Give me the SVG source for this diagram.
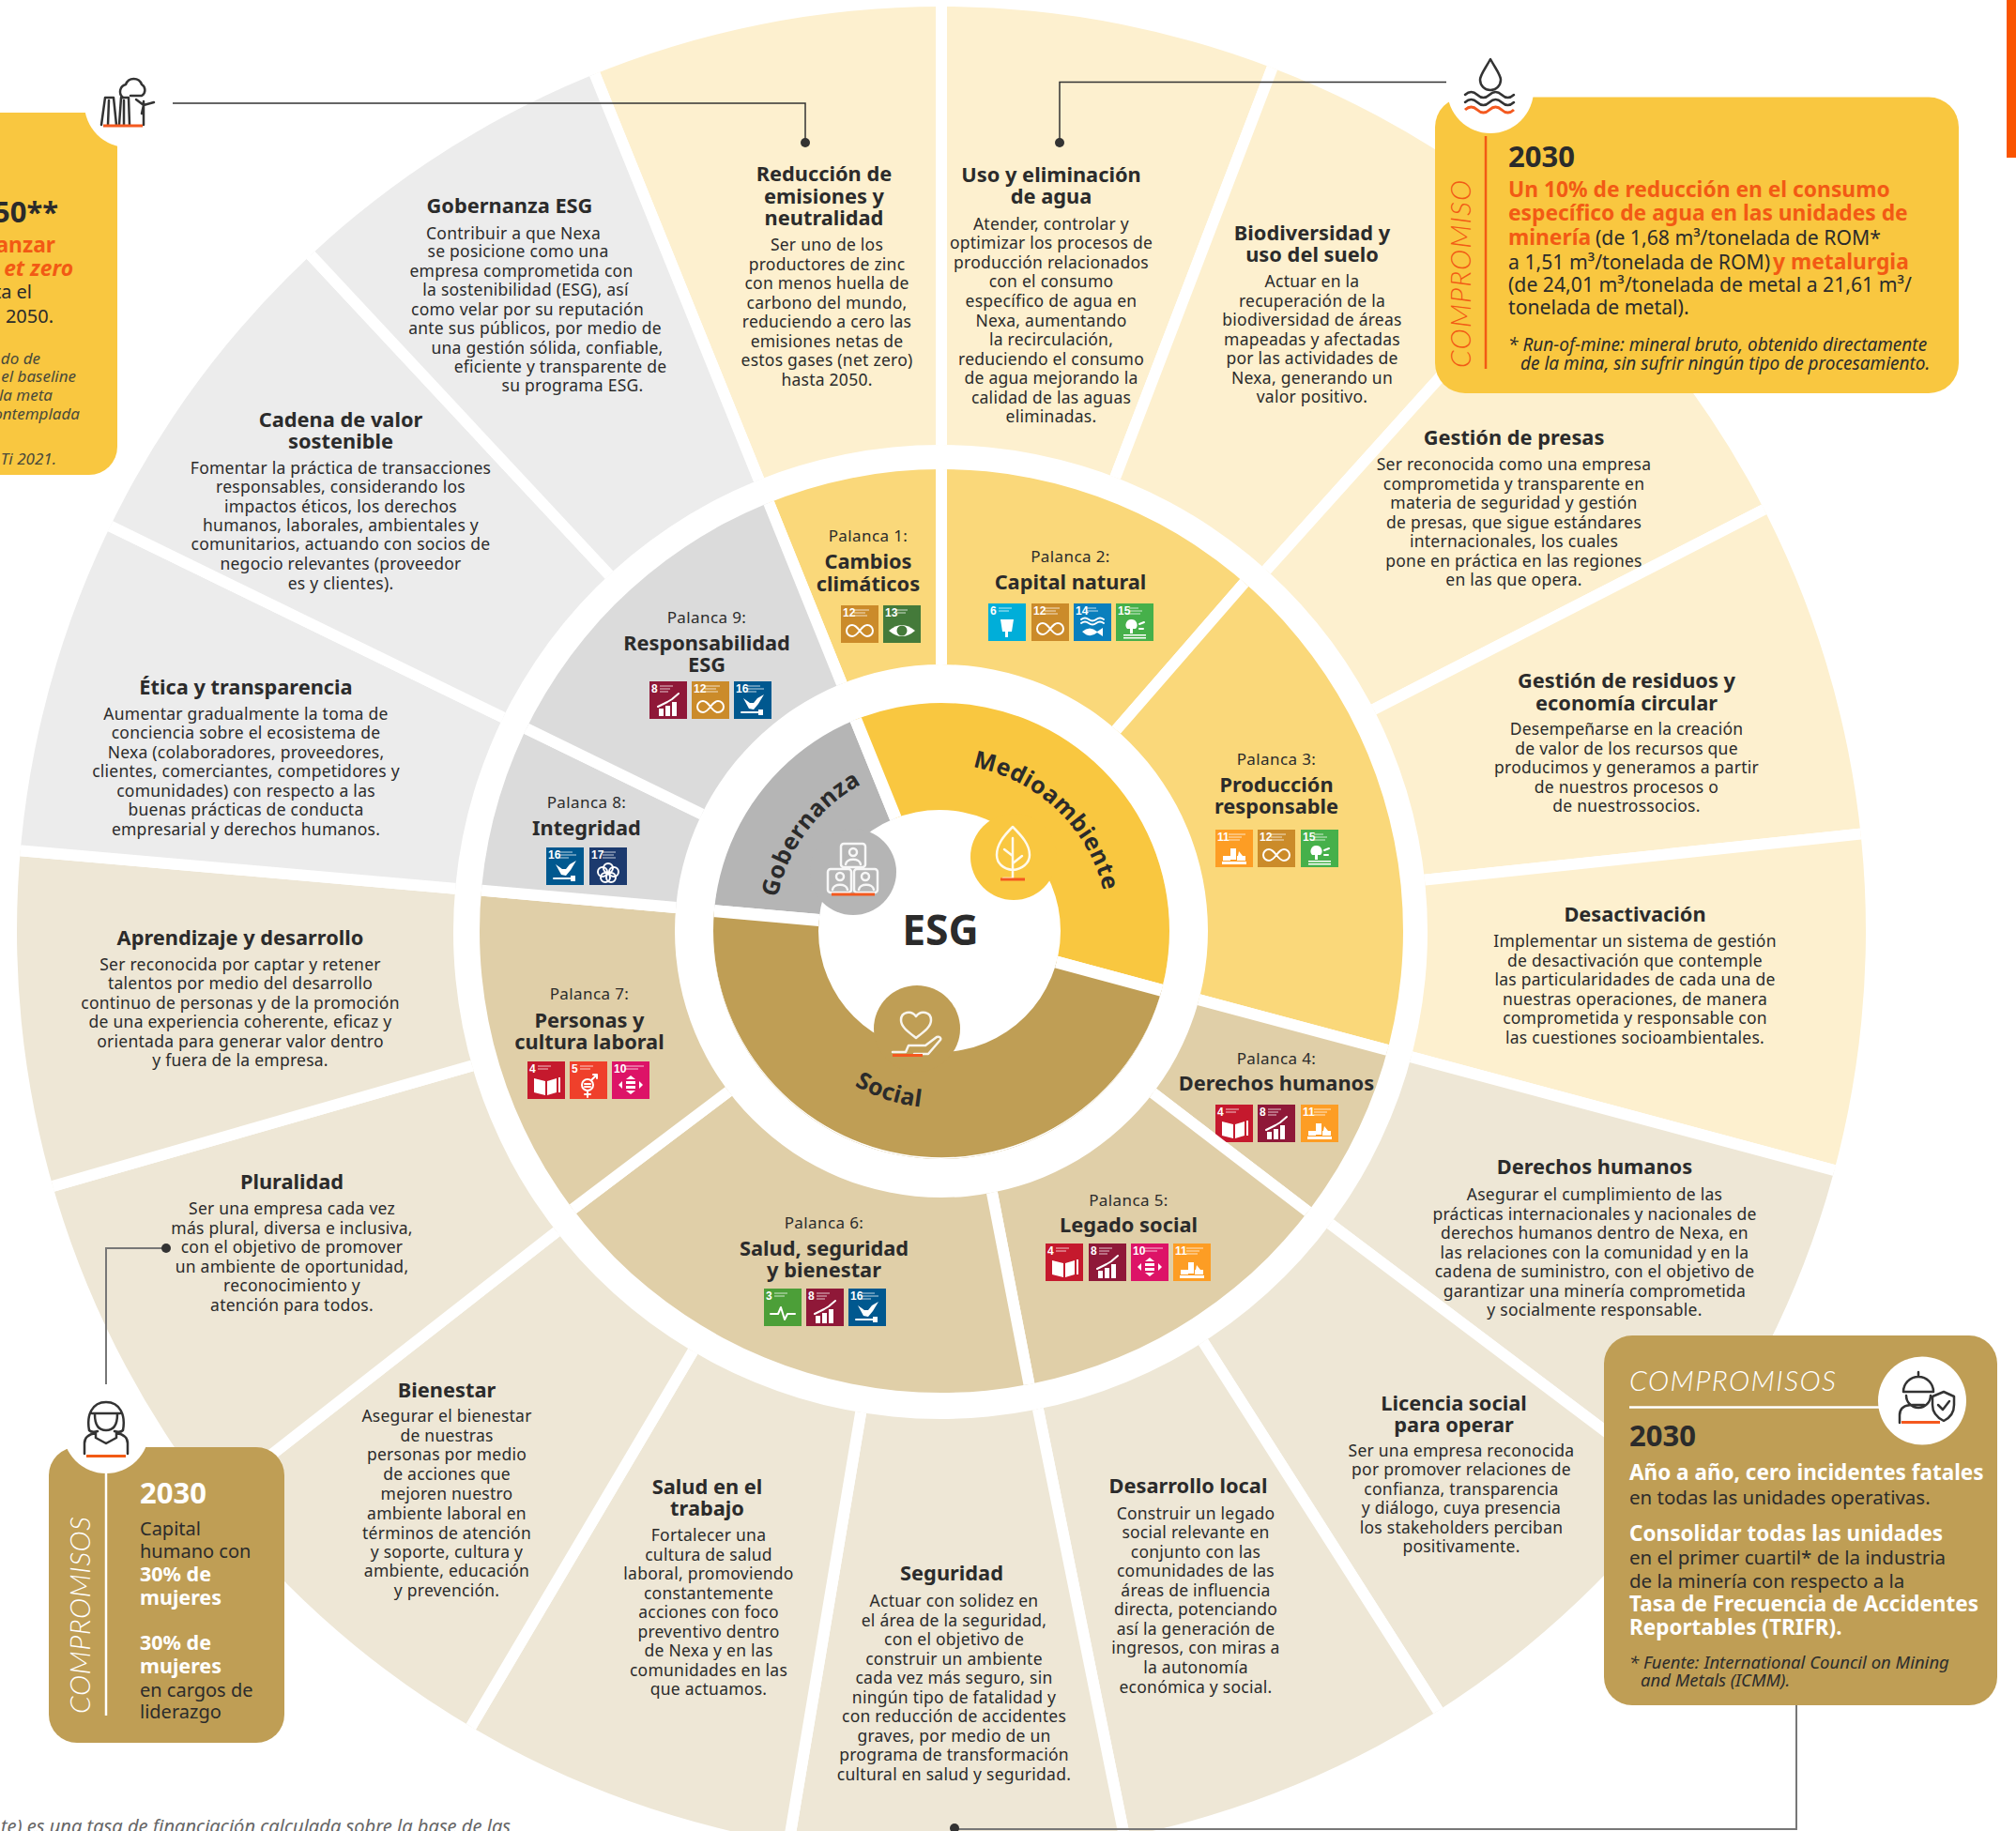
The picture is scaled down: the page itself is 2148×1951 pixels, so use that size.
<svg xmlns="http://www.w3.org/2000/svg" width="2148" height="1951" viewBox="0 0 2148 1951">
<style>
text{font-family:"Noto Sans","Open Sans",sans-serif;fill:#2b2b2b}
.t{font-size:21.8px;font-weight:700;text-anchor:middle}
.b{font-size:17.5px;text-anchor:middle;letter-spacing:.25px}
.p{font-size:17px;text-anchor:middle;letter-spacing:.4px}
.c{font-size:25px;font-weight:700;letter-spacing:.5px}
.oe{fill:#FDF0CF}.os{fill:#EEE7D6}.og{fill:#ECECEC}
.me{fill:#FAD87A}.ms{fill:#E0CFA8}.mg{fill:#DBDBDB}
.ce{fill:#F9C740}.cs{fill:#BF9E55}.cg{fill:#B5B5B5}
.w{stroke:#fff;stroke-width:12}
.cw{stroke:#fff;stroke-width:13}
.ol{clip-path:url(#outerClip)}.ml{clip-path:url(#midClip)}.cl{clip-path:url(#coreClip)}
.k{fill:none;stroke:#333;stroke-width:2.5;stroke-linecap:round;stroke-linejoin:round}
.wi{fill:none;stroke:#fff;stroke-width:2.5;stroke-linecap:round;stroke-linejoin:round;opacity:.9}
.u{stroke:#F4591F;stroke-width:3;fill:none}
.cn{font:700 12px "Liberation Sans Narrow","Liberation Sans",sans-serif;fill:#fff}
.sg{fill:none;stroke:#fff;stroke-width:2;stroke-linecap:round;stroke-linejoin:round}
.sf{fill:#fff}
.tl{stroke:#fff;stroke-width:1;opacity:.75}
.y{font-size:22.8px;font-weight:700;fill:#F25A14}
.r{font-size:20.5px}
.rb{font-size:22.5px;font-weight:700;fill:#fff}
.lr{font-size:20px}
.lb{font-size:21.5px;font-weight:700;fill:#fff}
.yr{font-size:21.2px}
.yl{font-size:20px}
.bigy{font-size:31px;font-weight:700}
.i{font-style:italic;font-size:18.5px}
.il{font-style:italic;font-size:17px;fill:#4a4a3a}
.lc{font-family:Lato,"Noto Sans",sans-serif;font-style:italic;font-weight:300;font-size:30px}
.cnl{fill:none;stroke:#333;stroke-width:1.5}
.cnl2{fill:none;stroke:#777;stroke-width:2}
</style>
<defs>
<clipPath id="outerClip"><path clip-rule="evenodd" d="M18 992a985 985 0 1 0 1970 0a985 985 0 1 0-1970 0zM483 993a519 519 0 1 0 1038 0a519 519 0 1 0-1038 0z"/></clipPath>
<clipPath id="midClip"><path clip-rule="evenodd" d="M511 992a492 492 0 1 0 984 0a492 492 0 1 0-984 0zM719 992a284 284 0 1 0 568 0a284 284 0 1 0-568 0z"/></clipPath>
<clipPath id="coreClip"><path clip-rule="evenodd" d="M760 992a243 243 0 1 0 486 0a243 243 0 1 0-486 0zM872 992a129 129 0 1 0 258 0a129 129 0 1 0-258 0z"/></clipPath>
<path id="arcM" d="M1013.900 814.300A178 178 0 0 1 1179.900 971.900"/>
<path id="arcG" d="M825 1003A178 178 0 0 1 961.500 819"/>
<path id="arcS" d="M842.700 1092A189 189 0 0 0 1074 1167"/>
<g id="s3"><rect width="40" height="40" fill="#4C9F38"/><text class="cn" x="2" y="12">3</text><path class="tl" d="M11 5h14M11 8h11"/><path class="sg" d="M7 27h8l3-7 4 13 3-6h8"/></g>
<g id="s4"><rect width="40" height="40" fill="#C5192D"/><text class="cn" x="2" y="12">4</text><path class="tl" d="M11 5h14M11 8h11"/><path class="sf" d="M7 18l12 3v15L7 33zM21 21l10-3v15l-10 3zM33 17h2v16h-2z"/></g>
<g id="s5"><rect width="40" height="40" fill="#EF402B"/><text class="cn" x="2" y="12">5</text><path class="tl" d="M11 5h14M11 8h11"/><circle class="sg" cx="19" cy="25" r="6"/><path class="sg" d="M19 31v7M16 35h6M23 20l6-6M25 14h4v4M16 24h6M16 27h6"/></g>
<g id="s6"><rect width="40" height="40" fill="#00AED9"/><text class="cn" x="2" y="12">6</text><path class="tl" d="M11 5h14M11 8h11"/><path class="sf" d="M13 17h14l-2 13h-4v6h-3v-6h-3z"/></g>
<g id="s8"><rect width="40" height="40" fill="#8F1838"/><text class="cn" x="2" y="12">8</text><path class="tl" d="M11 5h14M11 8h11M11 11h9"/><path class="sf" d="M10 29h5v8h-5zM17 26h5v11h-5zM24 22h5v15h-5z"/><path class="sg" d="M9 27l10-5 5-3 7-6"/></g>
<g id="s10"><rect width="40" height="40" fill="#DD1367"/><text class="cn" x="2" y="12">10</text><path class="tl" d="M14 5h20M14 8h14"/><path class="sf" d="M15 21h10v3H15zM15 26h10v3H15zM20 15l5 4H15zM20 35l-5-4h10zM7 25l4-4v8zM33 25l-4-4v8z"/></g>
<g id="s11"><rect width="40" height="40" fill="#FD9D24"/><text class="cn" x="2" y="12">11</text><path class="tl" d="M14 5h18M14 8h14M14 11h12"/><path class="sf" d="M16 20h6v12h-6zM8 28h8v5H8zM23 28h9v5h-9zM7 34h26v3H7zM25 23l4 5h-5z"/></g>
<g id="s12"><rect width="40" height="40" fill="#CB8B2A"/><text class="cn" x="2" y="12">12</text><path class="tl" d="M14 5h16M14 8h12M14 11h14"/><path class="sg" d="M20 27c-3-4-5-6-8-6a6 6 0 0 0 0 12c3 0 5-2 8-6s5-6 8-6a6 6 0 0 1 0 12c-3 0-5-2-8-6z"/></g>
<g id="s13"><rect width="40" height="40" fill="#447A3A"/><text class="cn" x="2" y="12">13</text><path class="tl" d="M14 5h12M14 8h10"/><path class="sf" d="M6 27Q20 15 34 27Q20 39 6 27z"/><circle cx="20" cy="27" r="5.500" fill="#447A3A"/></g>
<g id="s14"><rect width="40" height="40" fill="#0A7FBD"/><text class="cn" x="2" y="12">14</text><path class="tl" d="M14 5h10M14 8h12"/><path class="sg" d="M8 17q4-3 8 0t8 0 8 0M8 21q4-3 8 0t8 0 8 0"/><path class="sf" d="M9 30q8-7 16 0l6-4v9l-6-4q-8 7-16-1z"/></g>
<g id="s15"><rect width="40" height="40" fill="#46B04A"/><text class="cn" x="2" y="12">15</text><path class="tl" d="M14 5h10M14 8h14M14 11h12"/><path class="sf" d="M16 17a6 6 0 0 1 5 10h-3v5h-3v-5h-3a6 6 0 0 1 4-10zM8 33h24v1.500H8zM8 36h24v1.500H8z"/><path class="sg" d="M25 22l5-2M25 27h4"/></g>
<g id="s16"><rect width="40" height="40" fill="#00588F"/><text class="cn" x="2" y="12">16</text><path class="tl" d="M14 5h14M14 8h18M14 11h10"/><path class="sf" d="M10 18l7 5 4 0 4-5 7-4-6 10-5 6-5-1z"/><path class="sg" d="M8 33h22"/><rect class="sf" x="26" y="30" width="5" height="6"/></g>
<g id="s17"><rect width="40" height="40" fill="#1C3A6E"/><text class="cn" x="2" y="12">17</text><path class="tl" d="M14 5h14M14 8h12M14 11h14"/><g class="sg" stroke-width="1.500"><circle cx="20" cy="22" r="5"/><circle cx="14" cy="26" r="5"/><circle cx="26" cy="26" r="5"/><circle cx="17" cy="32" r="5"/><circle cx="23" cy="32" r="5"/></g></g>
</defs>
<rect width="2148" height="1951" fill="#fff"/>

<g id="w-emisiones"><path class="oe w ol" d="M1003 992L628 65A1000 1000 0 0 1 1003 -8Z"/><text class="t"><tspan x="878" y="193">Reducción de</tspan><tspan x="878" y="216.500">emisiones y</tspan><tspan x="878" y="240">neutralidad</tspan></text><text class="b"><tspan x="881" y="267">Ser uno de los</tspan><tspan x="881" y="288">productores de zinc</tspan><tspan x="881" y="308">con menos huella de</tspan><tspan x="881" y="329">carbono del mundo,</tspan><tspan x="881" y="349">reduciendo a cero las</tspan><tspan x="881" y="370">emisiones netas de</tspan><tspan x="881" y="390">estos gases (net zero)</tspan><tspan x="881" y="411">hasta 2050.</tspan></text></g>
<g id="w-agua"><path class="oe w ol" d="M1003 992L1003 -8A1000 1000 0 0 1 1361 58Z"/><text class="t"><tspan x="1120" y="194">Uso y eliminación</tspan><tspan x="1120" y="217">de agua</tspan></text><text class="b"><tspan x="1120" y="245">Atender, controlar y</tspan><tspan x="1120" y="265">optimizar los procesos de</tspan><tspan x="1120" y="286">producción relacionados</tspan><tspan x="1120" y="306">con el consumo</tspan><tspan x="1120" y="327">específico de agua en</tspan><tspan x="1120" y="348">Nexa, aumentando</tspan><tspan x="1120" y="368">la recirculación,</tspan><tspan x="1120" y="389">reduciendo el consumo</tspan><tspan x="1120" y="409">de agua mejorando la</tspan><tspan x="1120" y="430">calidad de las aguas</tspan><tspan x="1120" y="450">eliminadas.</tspan></text></g>
<g id="w-biodiversidad"><path class="oe w ol" d="M1003 992L1361 58A1000 1000 0 0 1 1672 249Z"/><text class="t"><tspan x="1398" y="256">Biodiversidad y</tspan><tspan x="1398" y="279">uso del suelo</tspan></text><text class="b"><tspan x="1398" y="306">Actuar en la</tspan><tspan x="1398" y="327">recuperación de la</tspan><tspan x="1398" y="347">biodiversidad de áreas</tspan><tspan x="1398" y="368">mapeadas y afectadas</tspan><tspan x="1398" y="388">por las actividades de</tspan><tspan x="1398" y="409">Nexa, generando un</tspan><tspan x="1398" y="429">valor positivo.</tspan></text></g>
<g id="w-presas"><path class="oe w ol" d="M1003 992L1672 249A1000 1000 0 0 1 1893 536Z"/><text class="t"><tspan x="1613" y="474">Gestión de presas</tspan></text><text class="b"><tspan x="1613" y="501">Ser reconocida como una empresa</tspan><tspan x="1613" y="522">comprometida y transparente en</tspan><tspan x="1613" y="542">materia de seguridad y gestión</tspan><tspan x="1613" y="563">de presas, que sigue estándares</tspan><tspan x="1613" y="583">internacionales, los cuales</tspan><tspan x="1613" y="604">pone en práctica en las regiones</tspan><tspan x="1613" y="624">en las que opera.</tspan></text></g>
<g id="w-residuos"><path class="oe w ol" d="M1003 992L1893 536A1000 1000 0 0 1 1997 887Z"/><text class="t"><tspan x="1733" y="733">Gestión de residuos y</tspan><tspan x="1733" y="756.500">economía circular</tspan></text><text class="b"><tspan x="1733" y="783">Desempeñarse en la creación</tspan><tspan x="1733" y="803.500">de valor de los recursos que</tspan><tspan x="1733" y="824">producimos y generamos a partir</tspan><tspan x="1733" y="844.700">de nuestros procesos o</tspan><tspan x="1733" y="865">de nuestrossocios.</tspan></text></g>
<g id="w-desactivacion"><path class="oe w ol" d="M1003 992L1997 887A1000 1000 0 0 1 1969 1251Z"/><text class="t"><tspan x="1742" y="982">Desactivación</tspan></text><text class="b"><tspan x="1742" y="1009">Implementar un sistema de gestión</tspan><tspan x="1742" y="1029.500">de desactivación que contemple</tspan><tspan x="1742" y="1050">las particularidades de cada una de</tspan><tspan x="1742" y="1070.600">nuestras operaciones, de manera</tspan><tspan x="1742" y="1091">comprometida y responsable con</tspan><tspan x="1742" y="1112">las cuestiones socioambientales.</tspan></text></g>
<g id="w-derechos"><path class="os w ol" d="M1003 992L1969 1251A1000 1000 0 0 1 1802 1594Z"/><text class="t"><tspan x="1699" y="1251">Derechos humanos</tspan></text><text class="b"><tspan x="1699" y="1279">Asegurar el cumplimiento de las</tspan><tspan x="1699" y="1299.500">prácticas internacionales y nacionales de</tspan><tspan x="1699" y="1320">derechos humanos dentro de Nexa, en</tspan><tspan x="1699" y="1340.600">las relaciones con la comunidad y en la</tspan><tspan x="1699" y="1361">cadena de suministro, con el objetivo de</tspan><tspan x="1699" y="1381.800">garantizar una minería comprometida</tspan><tspan x="1699" y="1402">y socialmente responsable.</tspan></text></g>
<g id="w-licencia"><path class="os w ol" d="M1003 992L1802 1594A1000 1000 0 0 1 1540 1835Z"/><text class="t"><tspan x="1549" y="1503">Licencia social</tspan><tspan x="1549" y="1526">para operar</tspan></text><text class="b"><tspan x="1557" y="1551.500">Ser una empresa reconocida</tspan><tspan x="1557" y="1572">por promover relaciones de</tspan><tspan x="1557" y="1592.600">confianza, transparencia</tspan><tspan x="1557" y="1613">y diálogo, cuya presencia</tspan><tspan x="1557" y="1633.700">los stakeholders perciban</tspan><tspan x="1557" y="1654">positivamente.</tspan></text></g>
<g id="w-desarrollo"><path class="os w ol" d="M1003 992L1540 1835A1000 1000 0 0 1 1201 1972Z"/><text class="t"><tspan x="1266" y="1590.600">Desarrollo local</tspan></text><text class="b"><tspan x="1274" y="1618.600">Construir un legado</tspan><tspan x="1274" y="1639">social relevante en</tspan><tspan x="1274" y="1659.700">conjunto con las</tspan><tspan x="1274" y="1680">comunidades de las</tspan><tspan x="1274" y="1700.800">áreas de influencia</tspan><tspan x="1274" y="1721">directa, potenciando</tspan><tspan x="1274" y="1741.900">así la generación de</tspan><tspan x="1274" y="1762.400">ingresos, con miras a</tspan><tspan x="1274" y="1783">la autonomía</tspan><tspan x="1274" y="1803.500">económica y social.</tspan></text></g>
<g id="w-seguridad"><path class="os w ol" d="M1003 992L1201 1972A1000 1000 0 0 1 838 1978Z"/><text class="t"><tspan x="1014" y="1684">Seguridad</tspan></text><text class="b"><tspan x="1016.500" y="1712">Actuar con solidez en</tspan><tspan x="1016.500" y="1732.500">el área de la seguridad,</tspan><tspan x="1016.500" y="1753">con el objetivo de</tspan><tspan x="1016.500" y="1773.600">construir un ambiente</tspan><tspan x="1016.500" y="1794">cada vez más seguro, sin</tspan><tspan x="1016.500" y="1814.700">ningún tipo de fatalidad y</tspan><tspan x="1016.500" y="1835">con reducción de accidentes</tspan><tspan x="1016.500" y="1855.800">graves, por medio de un</tspan><tspan x="1016.500" y="1876.400">programa de transformación</tspan><tspan x="1016.500" y="1897">cultural en salud y seguridad.</tspan></text></g>
<g id="w-salud"><path class="os w ol" d="M1003 992L838 1978A1000 1000 0 0 1 494 1853Z"/><text class="t"><tspan x="753.500" y="1592">Salud en el</tspan><tspan x="753.500" y="1615">trabajo</tspan></text><text class="b"><tspan x="755" y="1642">Fortalecer una</tspan><tspan x="755" y="1662.500">cultura de salud</tspan><tspan x="755" y="1683">laboral, promoviendo</tspan><tspan x="755" y="1703.600">constantemente</tspan><tspan x="755" y="1724">acciones con foco</tspan><tspan x="755" y="1744.700">preventivo dentro</tspan><tspan x="755" y="1765">de Nexa y en las</tspan><tspan x="755" y="1785.800">comunidades en las</tspan><tspan x="755" y="1806">que actuamos.</tspan></text></g>
<g id="w-bienestar"><path class="os w ol" d="M1003 992L494 1853A1000 1000 0 0 1 215 1608Z"/><text class="t"><tspan x="476" y="1488.500">Bienestar</tspan></text><text class="b"><tspan x="476" y="1515">Asegurar el bienestar</tspan><tspan x="476" y="1536">de nuestras</tspan><tspan x="476" y="1556">personas por medio</tspan><tspan x="476" y="1577">de acciones que</tspan><tspan x="476" y="1598">mejoren nuestro</tspan><tspan x="476" y="1618.500">ambiente laboral en</tspan><tspan x="476" y="1640">términos de atención</tspan><tspan x="476" y="1660">y soporte, cultura y</tspan><tspan x="476" y="1680">ambiente, educación</tspan><tspan x="476" y="1701">y prevención.</tspan></text></g>
<g id="w-pluralidad"><path class="os w ol" d="M1003 992L215 1608A1000 1000 0 0 1 42 1268Z"/><text class="t"><tspan x="311" y="1267">Pluralidad</tspan></text><text class="b"><tspan x="311" y="1294">Ser una empresa cada vez</tspan><tspan x="311" y="1314.500">más plural, diversa e inclusiva,</tspan><tspan x="311" y="1335">con el objetivo de promover</tspan><tspan x="311" y="1355.600">un ambiente de oportunidad,</tspan><tspan x="311" y="1376">reconocimiento y</tspan><tspan x="311" y="1396.700">atención para todos.</tspan></text></g>
<g id="w-aprendizaje"><path class="os w ol" d="M1003 992L42 1268A1000 1000 0 0 1 7 905Z"/><text class="t"><tspan x="256" y="1007">Aprendizaje y desarrollo</tspan></text><text class="b"><tspan x="256" y="1033.600">Ser reconocida por captar y retener</tspan><tspan x="256" y="1054">talentos por medio del desarrollo</tspan><tspan x="256" y="1074.700">continuo de personas y de la promoción</tspan><tspan x="256" y="1095">de una experiencia coherente, eficaz y</tspan><tspan x="256" y="1115.800">orientada para generar valor dentro</tspan><tspan x="256" y="1136.400">y fuera de la empresa.</tspan></text></g>
<g id="w-etica"><path class="og w ol" d="M1003 992L7 905A1000 1000 0 0 1 104 554Z"/><text class="t"><tspan x="262" y="740">Ética y transparencia</tspan></text><text class="b"><tspan x="262" y="766.500">Aumentar gradualmente la toma de</tspan><tspan x="262" y="787">conciencia sobre el ecosistema de</tspan><tspan x="262" y="807.600">Nexa (colaboradores, proveedores,</tspan><tspan x="262" y="828">clientes, comerciantes, competidores y</tspan><tspan x="262" y="848.700">comunidades) con respecto a las</tspan><tspan x="262" y="869">buenas prácticas de conducta</tspan><tspan x="262" y="890">empresarial y derechos humanos.</tspan></text></g>
<g id="w-cadena"><path class="og w ol" d="M1003 992L104 554A1000 1000 0 0 1 321 261Z"/><text class="t"><tspan x="363" y="454.500">Cadena de valor</tspan><tspan x="363" y="478">sostenible</tspan></text><text class="b"><tspan x="363" y="504.500">Fomentar la práctica de transacciones</tspan><tspan x="363" y="525">responsables, considerando los</tspan><tspan x="363" y="545.500">impactos éticos, los derechos</tspan><tspan x="363" y="566">humanos, laborales, ambientales y</tspan><tspan x="363" y="586">comunitarios, actuando con socios de</tspan><tspan x="363" y="607">negocio relevantes (proveedor</tspan><tspan x="363" y="628">es y clientes).</tspan></text></g>
<g id="w-gobernanza"><path class="og w ol" d="M1003 992L321 261A1000 1000 0 0 1 628 65Z"/><text class="t"><tspan x="543" y="227">Gobernanza ESG</tspan></text><text class="b"><tspan x="547" y="254.500">Contribuir a que Nexa</tspan><tspan x="552" y="274">se posicione como una</tspan><tspan x="555.500" y="295">empresa comprometida con</tspan><tspan x="560" y="315">la sostenibilidad (ESG), así</tspan><tspan x="562" y="336">como velar por su reputación</tspan><tspan x="570" y="356">ante sus públicos, por medio de</tspan><tspan x="583" y="377">una gestión sólida, confiable,</tspan><tspan x="597" y="397">eficiente y transparente de</tspan><tspan x="610" y="417">su programa ESG.</tspan></text></g>

<g id="p1"><path class="me w ml" d="M1003 992L816 528A500 500 0 0 1 1003 492Z"/><text class="p" x="925" y="577">Palanca 1:</text><text class="t"><tspan x="925" y="606">Cambios</tspan><tspan x="925" y="629.500">climáticos</tspan></text><use href="#s12" x="896" y="645"/><use href="#s13" x="941" y="645"/></g>
<g id="p2"><path class="me w ml" d="M1003 992L1003 492A500 500 0 0 1 1331 615Z"/><text class="p" x="1140.500" y="599">Palanca 2:</text><text class="t" x="1140.500" y="628">Capital natural</text><use href="#s6" x="1053" y="643"/><use href="#s12" x="1099" y="643"/><use href="#s14" x="1144" y="643"/><use href="#s15" x="1189" y="643"/></g>
<g id="p3"><path class="me w ml" d="M1003 992L1331 615A500 500 0 0 1 1486 1121Z"/><text class="p" x="1360" y="815">Palanca 3:</text><text class="t"><tspan x="1360" y="844">Producción</tspan><tspan x="1360" y="867">responsable</tspan></text><use href="#s11" x="1295" y="884"/><use href="#s12" x="1340" y="884"/><use href="#s15" x="1386" y="884"/></g>
<g id="p4"><path class="ms w ml" d="M1003 992L1486 1121A500 500 0 0 1 1400 1296Z"/><text class="p" x="1360" y="1133.500">Palanca 4:</text><text class="t" x="1360" y="1162">Derechos humanos</text><use href="#s4" x="1295" y="1177"/><use href="#s8" x="1340" y="1177"/><use href="#s11" x="1386" y="1177"/></g>
<g id="p5"><path class="ms w ml" d="M1003 992L1400 1296A500 500 0 0 1 1098 1483Z"/><text class="p" x="1202.500" y="1285">Palanca 5:</text><text class="t" x="1202.500" y="1313">Legado social</text><use href="#s4" x="1114" y="1325"/><use href="#s8" x="1160" y="1325"/><use href="#s10" x="1205" y="1325"/><use href="#s11" x="1250" y="1325"/></g>
<g id="p6"><path class="ms w ml" d="M1003 992L1098 1483A500 500 0 0 1 604 1293Z"/><text class="p" x="878" y="1308.500">Palanca 6:</text><text class="t"><tspan x="878" y="1337.500">Salud, seguridad</tspan><tspan x="878" y="1360.500">y bienestar</tspan></text><use href="#s3" x="814" y="1373"/><use href="#s8" x="859" y="1373"/><use href="#s16" x="904" y="1373"/></g>
<g id="p7"><path class="ms w ml" d="M1003 992L604 1293A500 500 0 0 1 505 948Z"/><text class="p" x="628" y="1065">Palanca 7:</text><text class="t"><tspan x="628" y="1094.500">Personas y</tspan><tspan x="628" y="1117.500">cultura laboral</tspan></text><use href="#s4" x="562" y="1131"/><use href="#s5" x="607" y="1131"/><use href="#s10" x="652" y="1131"/></g>
<g id="p8"><path class="mg w ml" d="M1003 992L505 948A500 500 0 0 1 554 773Z"/><text class="p" x="625" y="861">Palanca 8:</text><text class="t" x="625" y="890">Integridad</text><use href="#s16" x="582" y="903"/><use href="#s17" x="628" y="903"/></g>
<g id="p9"><path class="mg w ml" d="M1003 992L554 773A500 500 0 0 1 816 528Z"/><text class="p" x="753" y="664">Palanca 9:</text><text class="t"><tspan x="753" y="693">Responsabilidad</tspan><tspan x="753" y="716">ESG</tspan></text><use href="#s8" x="692" y="726"/><use href="#s12" x="737" y="726"/><use href="#s16" x="782" y="726"/></g>

<g id="core-gobernanza"><path class="cg cw cl" d="M1003 992L754 970A250 250 0 0 1 909 760Z"/><circle class="cg" cx="909" cy="929" r="46"/><g class="wi"><rect x="896" y="899" width="26" height="25" rx="3"/><rect x="882" y="926" width="25" height="25" rx="3"/><rect x="910" y="926" width="25" height="25" rx="3"/><circle cx="909" cy="908" r="4"/><path d="M901 921c1-7 15-7 16 0"/><circle cx="895" cy="934" r="4"/><path d="M887 948c1-7 15-7 16 0"/><circle cx="922" cy="934" r="4"/><path d="M915 948c1-7 15-7 16 0"/></g><path class="u" d="M886 953h46"/><text class="c"><textPath href="#arcG" startOffset="50%" text-anchor="middle">Gobernanza</textPath></text></g>
<g id="core-medioambiente"><path class="ce cw cl" d="M1003 992L909 760A250 250 0 0 1 1244 1057Z"/><circle class="ce" cx="1080" cy="913" r="46"/><g class="wi"><path d="M1079 881c-10 10-17 19-17 30 0 9 7 15 17 16 10-1 18-7 18-16 0-11-8-20-18-30zM1079 893v43M1079 912l-9-7M1079 920l10-8M1079 936h-10"/></g><path class="u" d="M1066 937h26"/><text class="c"><textPath href="#arcM" startOffset="50%" text-anchor="middle">Medioambiente</textPath></text></g>
<g id="core-social"><path class="cs cw cl" d="M1003 992L1244 1057A250 250 0 0 1 754 970Z"/><circle class="cs" cx="977" cy="1096" r="46"/><g class="wi"><path d="M976 1106c-9-7-16-12-16-19 0-9 11-11 16-4 5-7 16-5 16 4 0 7-7 12-16 19z"/><path d="M951 1121h14l3-7h18l12-9c3-1 5 1 4 3l-13 15h-15"/></g><path class="u" d="M951 1124.500h32"/><text class="c"><textPath href="#arcS" startOffset="50%" text-anchor="middle">Social</textPath></text></g>
<text id="esg" x="1002" y="1007" font-size="44.500" font-weight="700" text-anchor="middle">ESG</text>

<g id="connectors">
<path class="cnl" d="M184 110H858V152"/><circle cx="858" cy="152" r="5" fill="#333"/>
<path class="cnl" d="M1541 87.500H1129V152"/><circle cx="1129" cy="152" r="5" fill="#333"/>
<path class="cnl2" d="M113 1475V1330H175"/><circle cx="177" cy="1330" r="5" fill="#333"/>
<path class="cnl2" d="M1914 1817V1949H1017"/><circle cx="1017" cy="1948" r="5" fill="#333"/>
</g>

<g id="callout-2050">
<path d="M-30 120H125V476a30 30 0 0 1-30 30H-30z" fill="#F9C740"/>
<circle cx="136" cy="111" r="46" fill="#fff"/>
<g class="k"><path d="M108 133l4-29h9l3 29M127 133l2-29h8l1 29M115 133l1-26M132 133l0-26"/><path d="M131 104a8 8 0 0 1 3-14 9 9 0 0 1 17 0 7 7 0 0 1 0 12h-12"/><path d="M153 133V108M153 112l11-3M153 112l-8-6M153 112l-2 9"/></g><path class="u" d="M110 134h42"/>
<g style="text-anchor:end"><text x="62" y="237" class="bigy">50**</text><text x="59" y="269" class="y">anzar</text><text x="78" y="294" class="y" font-style="italic">et zero</text><text x="34" y="318" class="yl">ta el</text><text x="57" y="344" class="yl">2050.</text><text x="43" y="387.500" class="il">do de</text><text x="81" y="407" class="il">el baseline</text><text x="56" y="427" class="il">la meta</text><text x="85" y="447" class="il">ontemplada</text><text x="60" y="495" class="il">Ti 2021.</text></g>
</g>

<g id="callout-agua">
<rect x="1529" y="103.500" width="558" height="315.500" rx="32" fill="#F9C740"/>
<circle cx="1588" cy="96" r="46" fill="#fff"/>
<g class="k" stroke-width="3"><path d="M1588 63c-6 11-11 17-11 22a11 11 0 0 0 22 0c0-5-5-11-11-22z"/><path d="M1561 101q6.500-6 13 0t13 0 13 0 13 0M1561 109q6.500-6 13 0t13 0 13 0 13 0"/></g><path class="u" d="M1561 117q6.500-6 13 0t13 0 13 0 13 0"/>
<path d="M1583 145V393" stroke="#F25A14" stroke-width="2.500"/>
<text class="lc" transform="translate(1567 392) rotate(-90)" style="fill:#F25A14" textLength="200">COMPROMISO</text>
<text x="1607" y="178" class="bigy">2030</text>
<text class="y"><tspan x="1607" y="210">Un 10% de reducción en el consumo</tspan><tspan x="1607" y="235">específico de agua en las unidades de</tspan><tspan x="1607" y="261">minería</tspan></text>
<text class="yr" x="1700" y="261">(de 1,68 m³/tonelada de ROM*</text>
<text class="yr" x="1607" y="287">a 1,51 m³/tonelada de ROM)</text>
<text class="y" x="1889" y="287">y metalurgia</text>
<text class="yr"><tspan x="1607" y="311">(de 24,01 m³/tonelada de metal a 21,61 m³/</tspan><tspan x="1607" y="335">tonelada de metal).</tspan></text>
<text class="i" style="font-size:19px"><tspan x="1607" y="374">* Run-of-mine: mineral bruto, obtenido directamente</tspan><tspan x="1620" y="394">de la mina, sin sufrir ningún tipo de procesamiento.</tspan></text>
</g>

<g id="callout-seguridad">
<rect x="1709" y="1423" width="419" height="394" rx="30" fill="#BF9E55"/>
<path d="M1736 1499.500H2003" stroke="#fff" stroke-width="2.500"/>
<circle cx="2048" cy="1492.500" r="47" fill="#fff"/>
<g class="k"><path d="M2028 1483a16 16 0 0 1 32 0zM2044 1467v-5M2031 1487a13 13 0 0 0 26 0M2024 1516v-8c0-8 6-11 14-11h12"/><path d="M2071 1483l11 5v9c0 9-5 14-11 17-6-3-12-8-12-17v-9zM2065 1497l5 5 7-9"/></g><path class="u" d="M2026 1515.500h41"/>
<text class="lc" x="1736" y="1481.500" style="fill:#fff" textLength="220">COMPROMISOS</text>
<text x="1736" y="1541" class="bigy">2030</text>
<text class="rb" x="1736" y="1577">Año a año, cero incidentes fatales</text>
<text class="r" x="1736" y="1603">en todas las unidades operativas.</text>
<text class="rb" x="1736" y="1642">Consolidar todas las unidades</text>
<text class="r"><tspan x="1736" y="1667">en el primer cuartil* de la industria</tspan><tspan x="1736" y="1692">de la minería con respecto a la</tspan></text>
<text class="rb"><tspan x="1736" y="1717">Tasa de Frecuencia de Accidentes</tspan><tspan x="1736" y="1742">Reportables (TRIFR).</tspan></text>
<text class="i"><tspan x="1736" y="1778">* Fuente: International Council on Mining</tspan><tspan x="1748" y="1797">and Metals (ICMM).</tspan></text>
</g>

<g id="callout-personas">
<rect x="52" y="1542" width="251" height="315" rx="30" fill="#BF9E55"/>
<circle cx="113" cy="1524" r="46" fill="#fff"/>
<g class="k"><path d="M95 1524c-3-16 3-30 18-30s21 14 18 30c-2 2-6 2-9 1M95 1524c2 2 6 2 9 1M98 1506h30M101 1507c0 12 5 17 12 17s12-5 12-17"/><path d="M90 1549v-11c0-7 6-10 12-11v5l11 6 11-6v-5c6 1 12 4 12 11v11"/></g><path d="M92 1551.500h42" stroke="#F25A14" stroke-width="3"/>
<path d="M113 1570V1828" stroke="#fff" stroke-width="2.500"/>
<text class="lc" transform="translate(96 1826) rotate(-90)" style="fill:#fff" textLength="210">COMPROMISOS</text>
<text x="149" y="1602" class="bigy" style="fill:#fff">2030</text>
<text class="lr"><tspan x="149" y="1636">Capital</tspan><tspan x="149" y="1660">humano con</tspan></text>
<text class="lb"><tspan x="149" y="1685">30% de</tspan><tspan x="149" y="1710">mujeres</tspan><tspan x="149" y="1758">30% de</tspan><tspan x="149" y="1783">mujeres</tspan></text>
<text class="lr"><tspan x="149" y="1808">en cargos de</tspan><tspan x="149" y="1831">liderazgo</tspan></text>
</g>

<text id="footnote" class="i" x="544" y="1953" style="text-anchor:end;font-size:20.100px;fill:#666">te) es una tasa de financiación calculada sobre la base de las</text>
<rect id="accent-bar" x="2138" y="0" width="10" height="168" fill="#FA5400"/>
</svg>
